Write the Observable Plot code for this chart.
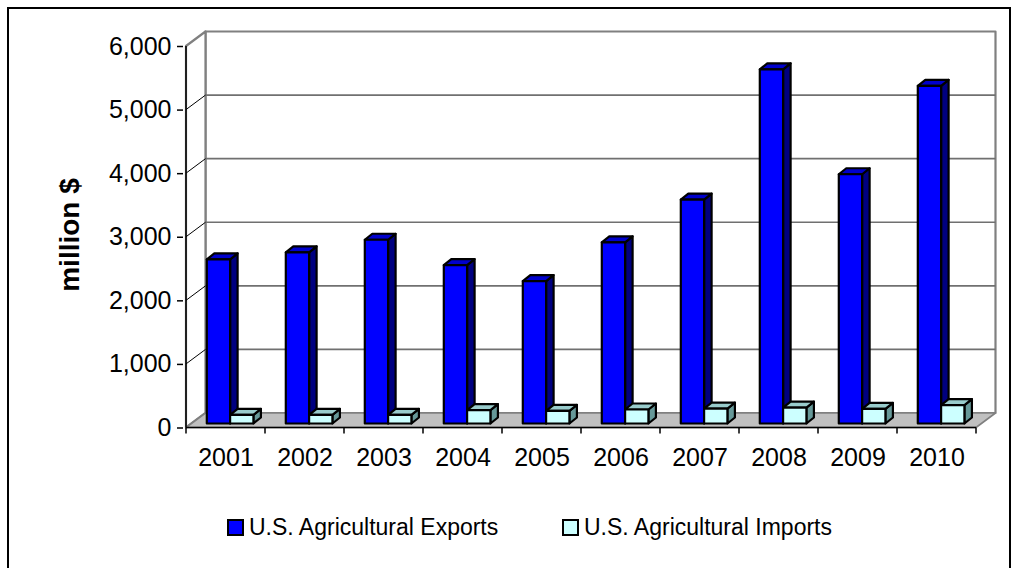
<!DOCTYPE html>
<html><head><meta charset="utf-8">
<script src="https://cdn.jsdelivr.net/npm/d3@7"></script>
<script src="https://cdn.jsdelivr.net/npm/@observablehq/plot@0.6"></script>
<style>
html,body{margin:0;padding:0;background:#fff;}
#wrap{position:relative;width:1016px;height:568px;overflow:hidden;font-family:"Liberation Sans",Arial,sans-serif;color:#000;}
#frame{position:absolute;left:7px;top:7px;width:1000px;height:620px;border:2px solid #000;pointer-events:none;}
#chart{position:absolute;left:0;top:0;}
#ytitle{position:absolute;left:70px;top:235px;transform:translate(-50%,-50%) rotate(-90deg);font-size:28px;font-weight:bold;white-space:nowrap;}
.leg{position:absolute;top:515px;font-size:23px;line-height:24px;display:flex;align-items:center;white-space:nowrap;}
.sw{width:13px;height:13px;border:2px solid #000;margin-right:5px;}
</style>
</head><body>
<div id="wrap">
  <div id="chart"></div>
  <div id="ytitle"></div>
  <div id="legend"></div>
  <div id="frame"></div>
</div>
<script>
const years = ["2001","2002","2003","2004","2005","2006","2007","2008","2009","2010"];
const exportsVals = [2580, 2690, 2890, 2490, 2240, 2850, 3520, 5570, 3920, 5310];
const importsVals = [135, 135, 135, 210, 200, 220, 235, 250, 230, 290];
const yTicks = [0, 1000, 2000, 3000, 4000, 5000, 6000];
const seriesNames = ["U.S. Agricultural Exports", "U.S. Agricultural Imports"];
const yLabel = "million $";

const colors = {
  exports: {front: "#0000ff", top: "#0000cc", side: "#000080"},
  imports: {front: "#ccffff", top: "#99cccc", side: "#669999"}
};

// 3D geometry (pixel offsets)
const wallDx = 19.5, wallDy = -14.5;   // back wall depth
const planeDx = 5, planeDy = -4;       // plane where bars stand
const barDx = 7.5, barDy = -6;         // bar depth
const inset = 0.2, barFrac = 0.295;    // fraction of band

function scene(index, scales, values, dims) {
  const x = scales.x, y = scales.y;
  const bw = x(years[1]) - x(years[0]);
  const X0 = x(years[0]), X1 = x(years[years.length - 1]) + bw;
  const Y0 = y(0), Ytop = y(yTicks[yTicks.length - 1]);
  const g = d3.create("svg:g");
  const poly = (pts, fill, stroke, sw) => g.append("polygon")
    .attr("points", pts.map(p => p.join(",")).join(" "))
    .attr("fill", fill).attr("stroke", stroke).attr("stroke-width", sw)
    .attr("stroke-linejoin", "round");
  const line = (x1, y1, x2, y2, stroke, sw) => g.append("line")
    .attr("x1", x1).attr("y1", y1).attr("x2", x2).attr("y2", y2)
    .attr("stroke", stroke).attr("stroke-width", sw);

  // back wall
  poly([[X0 + wallDx, Ytop + wallDy], [X1 + wallDx, Ytop + wallDy], [X1 + wallDx, Y0 + wallDy], [X0 + wallDx, Y0 + wallDy]], "#fff", "#808080", 2.2);
  // left wall
  poly([[X0, Ytop], [X0 + wallDx, Ytop + wallDy], [X0 + wallDx, Y0 + wallDy], [X0, Y0]], "#fff", "#808080", 2.2);
  // gridlines on back wall + diagonals on left wall
  for (const v of yTicks.slice(1, -1)) {
    line(X0 + wallDx, y(v) + wallDy, X1 + wallDx, y(v) + wallDy, "#707070", 1.6);
    line(X0, y(v), X0 + wallDx, y(v) + wallDy, "#000", 1);
  }
  // floor
  poly([[X0, Y0], [X0 + wallDx, Y0 + wallDy], [X1 + wallDx, Y0 + wallDy], [X1, Y0]], "#c0c0c0", "#808080", 1.6);

  // bars
  const drawBar = (xa, xb, yb, yt, c) => {
    poly([[xb, yb], [xb + barDx, yb + barDy], [xb + barDx, yt + barDy], [xb, yt]], c.side, "#000", 2.2);
    poly([[xa, yt], [xa + barDx, yt + barDy], [xb + barDx, yt + barDy], [xb, yt]], c.top, "#000", 2.2);
    poly([[xa, yt], [xb, yt], [xb, yb], [xa, yb]], c.front, "#000", 2.2);
  };
  years.forEach((yr, i) => {
    const xs = x(yr) + bw * inset + planeDx;
    const w = bw * barFrac;
    const yb = Y0 + planeDy;
    drawBar(xs, xs + w, yb, y(exportsVals[i]) + planeDy, colors.exports);
    drawBar(xs + w, xs + 2 * w, yb, y(importsVals[i]) + planeDy, colors.imports);
  });

  // front axes
  line(X0, Ytop, X0, Y0, "#000", 1.5);
  line(X0, Y0, X1, Y0, "#000", 1.5);
  for (let i = 0; i <= years.length; i++) {
    const xt = i < years.length ? x(years[i]) : X1;
    line(xt, Y0, xt, Y0 + 6, "#000", 1.5);
  }
  return g.node();
}

const chart = Plot.plot({
  width: 1016,
  height: 568,
  marginLeft: 183,
  marginRight: 37,
  marginTop: 46,
  marginBottom: 140.5,
  style: {fontFamily: "'Liberation Sans', Arial, sans-serif", color: "#000", background: "transparent", overflow: "visible"},
  x: {type: "band", domain: years, padding: 0},
  y: {domain: [0, 6000]},
  marks: [
    scene,
    Plot.axisY(yTicks, {tickSize: 6, tickPadding: 6, tickFormat: d3.format(","), fontSize: 25, label: null, strokeWidth: 1.5}),
    Plot.axisX(years, {tickSize: 0, tickPadding: 20, fontSize: 25, label: null})
  ]
});
document.getElementById("chart").appendChild(chart);

document.getElementById("ytitle").textContent = yLabel;
const legend = document.getElementById("legend");
const legX = [227, 562];
seriesNames.forEach((name, i) => {
  const d = document.createElement("div");
  d.className = "leg";
  d.style.left = legX[i] + "px";
  const sw = document.createElement("span");
  sw.className = "sw";
  sw.style.background = i === 0 ? colors.exports.front : colors.imports.front;
  d.appendChild(sw);
  d.appendChild(document.createTextNode(name));
  legend.appendChild(d);
});
</script>
</body></html>
